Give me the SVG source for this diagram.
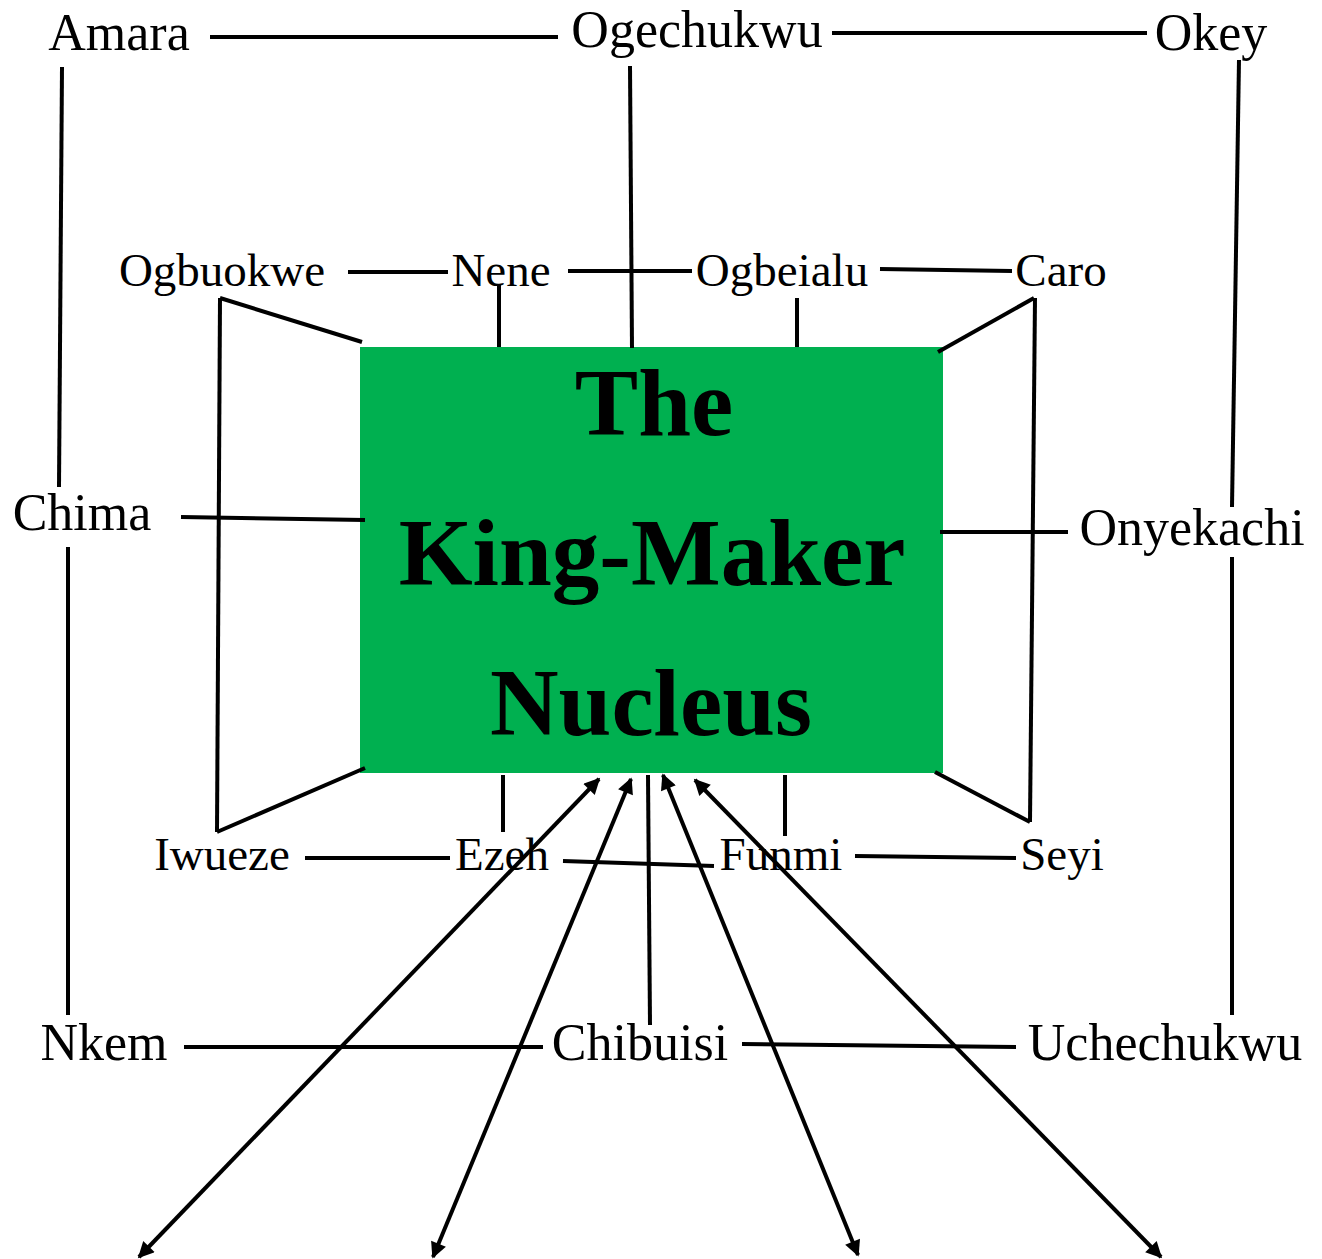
<svg xmlns="http://www.w3.org/2000/svg" width="1322" height="1259" viewBox="0 0 1322 1259">
<style>
.lbl{font-family:"Liberation Serif","Times New Roman",serif;fill:#000;text-anchor:middle}
.out{font-size:52px}
.in{font-size:47px}
.title{font-family:"Liberation Serif","Times New Roman",serif;font-weight:bold;font-size:95px;fill:#000;text-anchor:middle}
.c line{stroke:#000;stroke-width:4;fill:none}
.c .arr{marker-start:url(#ah);marker-end:url(#ah)}
</style>
<defs>
<marker id="ah" viewBox="0 0 10 10" refX="9" refY="5" markerWidth="20" markerHeight="16" markerUnits="userSpaceOnUse" orient="auto-start-reverse">
<path d="M0,0 L10,5 L0,10 z" fill="#000"/>
</marker>
</defs>
<rect width="1322" height="1259" fill="#fff"/>
<g id="nucleus">
<rect x="360" y="347" width="583" height="426" fill="#00B050"/>
<text class="title" x="654" y="435">The</text>
<text class="title" x="652" y="585">King-Maker</text>
<text class="title" x="651" y="735">Nucleus</text>
</g>
<g class="c" id="connectors">
<line x1="210" y1="37" x2="558" y2="37"/>
<line x1="832" y1="33" x2="1147" y2="33"/>
<line x1="62" y1="67" x2="59" y2="487"/>
<line x1="68" y1="547" x2="68" y2="1015"/>
<line x1="1239" y1="60" x2="1232" y2="507"/>
<line x1="1232" y1="557" x2="1232" y2="1015"/>
<line x1="630" y1="66" x2="632" y2="348"/>
<line x1="348" y1="272" x2="448" y2="272"/>
<line x1="568" y1="271" x2="692" y2="271"/>
<line x1="880" y1="269" x2="1012" y2="271"/>
<line x1="499" y1="284" x2="499" y2="347"/>
<line x1="797" y1="298" x2="797" y2="347"/>
<line x1="362" y1="342" x2="220" y2="298"/>
<line x1="220" y1="298" x2="217" y2="832"/>
<line x1="217" y1="832" x2="365" y2="768"/>
<line x1="181" y1="517" x2="365" y2="520"/>
<line x1="938" y1="352" x2="1034" y2="298"/>
<line x1="1035" y1="298" x2="1030" y2="822"/>
<line x1="1030" y1="822" x2="935" y2="772"/>
<line x1="940" y1="532" x2="1068" y2="532"/>
<line x1="503" y1="775" x2="503" y2="832"/>
<line x1="785" y1="775" x2="785" y2="836"/>
<line x1="305" y1="858" x2="450" y2="858"/>
<line x1="563" y1="861" x2="714" y2="866"/>
<line x1="855" y1="856" x2="1016" y2="858"/>
<line x1="184" y1="1047" x2="543" y2="1047"/>
<line x1="742" y1="1044" x2="1016" y2="1047"/>
<line x1="648" y1="775" x2="650" y2="1025"/>
<line class="arr" x1="599" y1="779" x2="139" y2="1257"/>
<line class="arr" x1="631" y1="779" x2="433" y2="1257"/>
<line class="arr" x1="663" y1="775" x2="858" y2="1255"/>
<line class="arr" x1="695" y1="780" x2="1161" y2="1257"/>
</g>
<g id="amara"><text class="lbl out" x="119" y="50">Amara</text></g>
<g id="ogechukwu"><text class="lbl out" x="697" y="47">Ogechukwu</text></g>
<g id="okey"><text class="lbl out" x="1211" y="50">Okey</text></g>
<g id="ogbuokwe"><text class="lbl in" x="222" y="286">Ogbuokwe</text></g>
<g id="nene"><text class="lbl in" x="501" y="286">Nene</text></g>
<g id="ogbeialu"><text class="lbl in" x="782" y="286">Ogbeialu</text></g>
<g id="caro"><text class="lbl in" x="1061" y="286">Caro</text></g>
<g id="chima"><text class="lbl out" x="82" y="530">Chima</text></g>
<g id="onyekachi"><text class="lbl out" x="1192" y="545">Onyekachi</text></g>
<g id="iwueze"><text class="lbl in" x="222" y="870">Iwueze</text></g>
<g id="ezeh"><text class="lbl in" x="502" y="870">Ezeh</text></g>
<g id="funmi"><text class="lbl in" x="781" y="870">Funmi</text></g>
<g id="seyi"><text class="lbl in" x="1062" y="870">Seyi</text></g>
<g id="nkem"><text class="lbl out" x="104" y="1060">Nkem</text></g>
<g id="chibuisi"><text class="lbl out" x="640" y="1060">Chibuisi</text></g>
<g id="uchechukwu"><text class="lbl out" x="1165" y="1060">Uchechukwu</text></g>
</svg>
